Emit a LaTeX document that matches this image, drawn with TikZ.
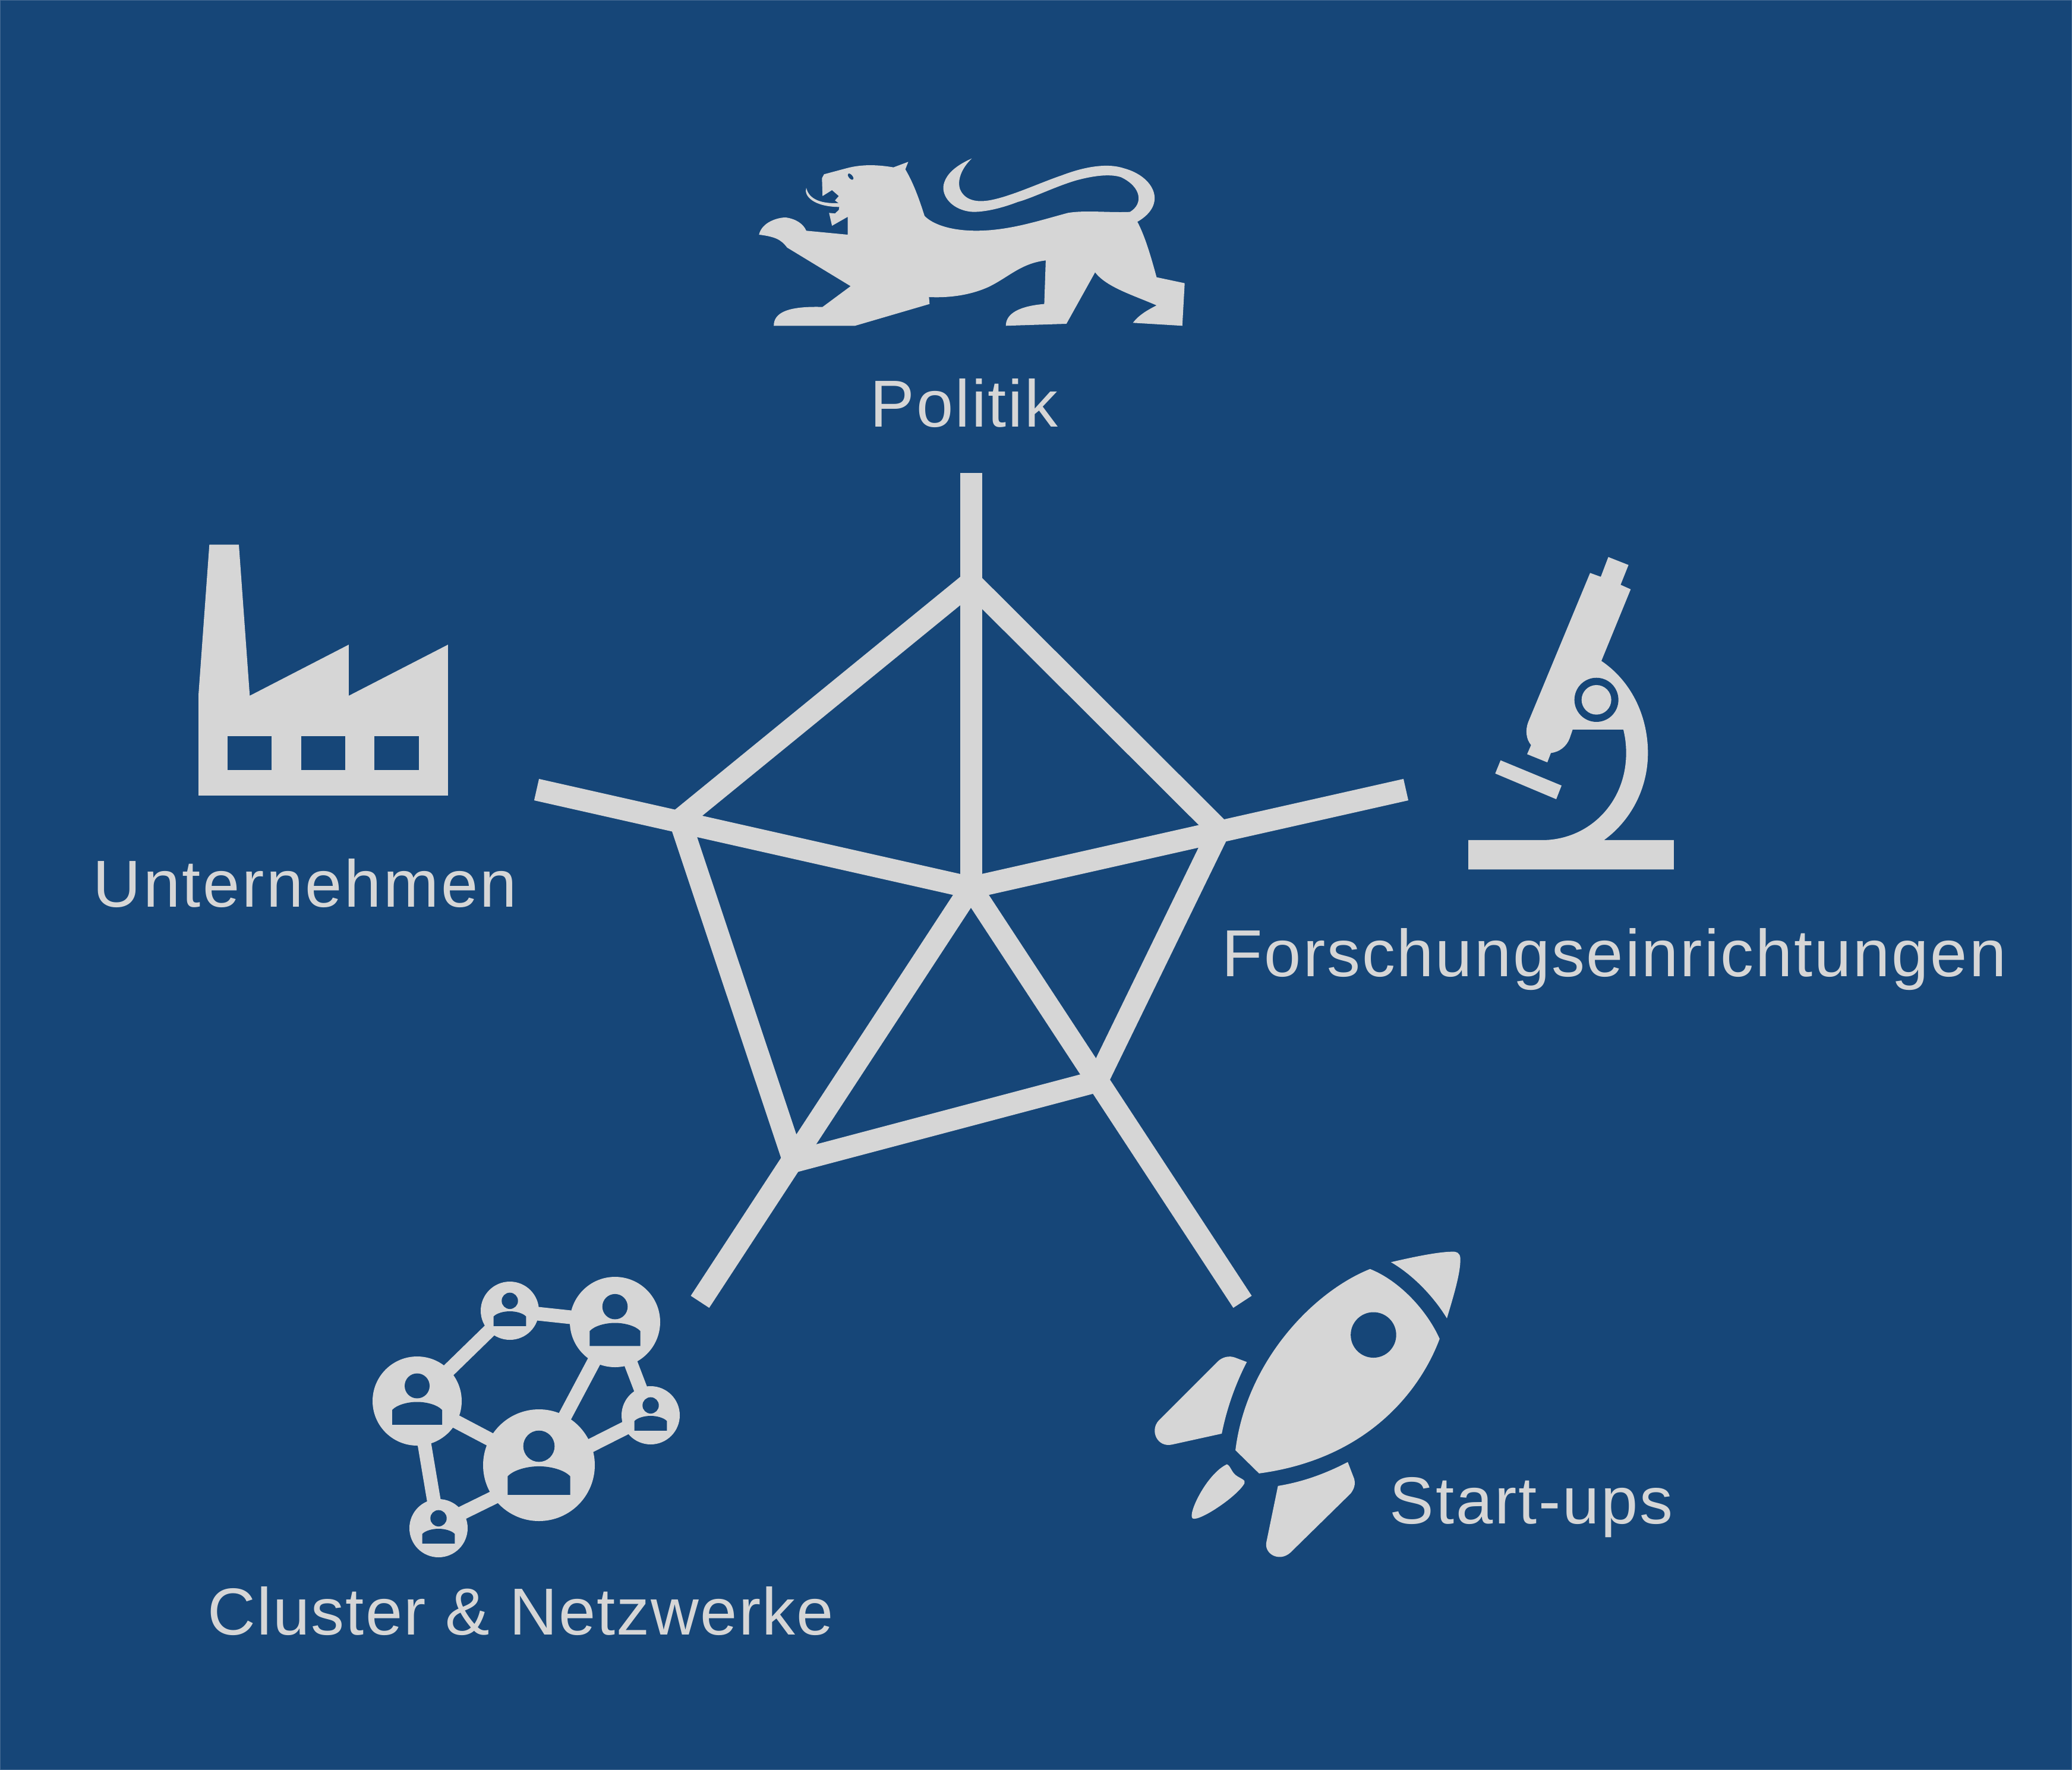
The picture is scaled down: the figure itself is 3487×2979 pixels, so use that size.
\documentclass[tikz,border=0pt]{standalone}
\usepackage{fontspec}
\setmainfont[LetterSpace=2.6]{Liberation Sans}
\usetikzlibrary{positioning}
\definecolor{bgblue}{HTML}{164678}
\definecolor{iconGray}{HTML}{D6D6D6}
\tikzset{
    label text/.style={text=iconGray, anchor=base west, inner sep=0pt, font=\fontsize{31.8}{38}\selectfont},
    web line/.style={draw=iconGray, line width=.37cm, line join=miter},
    net line/.style={draw=iconGray, line width=.23cm}
}

\begin{document}
\begin{tikzpicture}[x=.01cm, y=-.01cm]

\useasboundingbox (0,0) rectangle (3487,2979);
\fill[bgblue] (0,0) rectangle (3487,2979);
\draw[bgblue!80!white, line width=.02cm] (0,0) rectangle (3487,2979);

\coordinate (mid) at (1634,1494);
\coordinate (politik) at (1634,796);
\coordinate (forschung) at (2366,1329);
\coordinate (startups) at (2091,2191);
\coordinate (cluster) at (1178,2191);
\coordinate (firmen) at (903,1329);
\coordinate (p1) at (1634,980);
\coordinate (p2) at (2052,1397);
\coordinate (p3) at (1846,1820);
\coordinate (p4) at (1336,1955);
\coordinate (p5) at (1144,1380);

\foreach \point in {politik,forschung,startups,cluster,firmen}
    \draw[web line] (mid) -- (\point);
\draw[web line] (p1) -- (p2) -- (p3) -- (p4) -- (p5) -- cycle;

\node[label text] (tpolitik) at (1464,718) {Politik};
\node[label text] (tfirmen) at (156,1526) {\addfontfeatures{LetterSpace=3.2}Unternehmen};
\node[label text] (tforschung) at (2056,1643) {Forschungseinrichtungen};
\node[label text] (tstartups) at (2338,2564) {Start-ups};
\node[label text] (tcluster) at (349,2751) {\addfontfeatures{LetterSpace=1.9}Cluster \& Netzwerke};

% lion
\begin{scope}[shift={(1240,240)}, xscale=.4975, yscale=.3333]
\fill[iconGray] (75,465) .. controls (85,400) and (140,378) .. (165,378)
    .. controls (200,385) and (225,410) .. (235,445) -- (375,465) -- (375,375) -- (322,420) -- (312,355) -- (332,358)
    -- (345,340) -- (348,310) -- (332,292) -- (345,270) -- (322,240) -- (290,270) -- (288,180) -- (295,160) -- (370,130)
    .. controls (430,105) and (490,115) .. (530,125) -- (580,97) -- (570,135)
    .. controls (600,210) and (620,300) .. (635,370) .. controls (660,410) and (720,445) .. (810,445)
    .. controls (920,445) and (1020,395) .. (1120,355) .. controls (1180,340) and (1260,355) .. (1330,350)
    .. controls (1375,310) and (1370,225) .. (1300,175) .. controls (1260,155) and (1200,170) .. (1150,190)
    .. controls (1080,220) and (1000,280) .. (950,300) .. controls (880,340) and (830,350) .. (800,350)
    .. controls (730,345) and (690,270) .. (700,210) .. controls (710,150) and (750,110) .. (795,80)
    .. controls (760,130) and (745,190) .. (755,235) .. controls (770,290) and (810,305) .. (860,290)
    .. controls (930,270) and (1030,200) .. (1100,165) .. controls (1170,125) and (1250,100) .. (1310,130)
    .. controls (1410,170) and (1460,310) .. (1355,400)
    .. controls (1380,470) and (1400,570) .. (1420,680) -- (1515,710) -- (1507,925) -- (1340,910)
    .. controls (1360,870) and (1390,845) .. (1420,822) .. controls (1340,770) and (1250,730) .. (1212,655)
    -- (1115,915) -- (910,925) .. controls (910,860) and (960,825) .. (1040,815) -- (1045,595)
    .. controls (960,610) and (920,680) .. (850,730) .. controls (790,770) and (720,785) .. (650,780)
    -- (652,815) -- (400,925) -- (125,925) .. controls (125,860) and (170,825) .. (290,830)
    -- (385,725) -- (170,530) .. controls (150,490) and (130,475) .. (75,465) -- cycle;
\fill[iconGray] (235,228) .. controls (225,270) and (261,325) .. (348,325) -- (348,305)
    .. controls (268,312) and (241,270) .. (235,228) -- cycle;
\fill[bgblue, rotate around={25:(385,172)}] (385,172) circle [x radius=7, y radius=17];
\end{scope}

% factory
\begin{scope}[shift={(300,880)}, scale=.3333]
\fill[iconGray] (102,870) -- (157,110) -- (306,110) -- (361,873) -- (861,615) -- (861,873) -- (1362,615)
    -- (1362,1377) -- (102,1377) -- cycle;
\foreach \winx in {249,620,991}
    \fill[bgblue] (\winx,1078) rectangle ++(223,169);
\end{scope}

% microscope
\begin{scope}[shift={(2420,900)}, xscale=.3333, yscale=.3827]
\fill[iconGray] (768,168) -- (822,185) -- (860,98) -- (962,133) -- (922,220) -- (973,240) -- (825,555)
    .. controls (970,640) and (1060,790) .. (1060,960) .. controls (1060,1120) and (970,1260) .. (838,1343)
    -- (1191,1343) -- (1191,1472) -- (153,1472) -- (153,1343) -- (525,1343)
    .. controls (760,1343) and (950,1180) .. (950,960) .. controls (950,920) and (945,890) .. (936,857)
    -- (680,857) -- (665,895) .. controls (650,930) and (615,955) .. (570,960) -- (552,1001) -- (450,965)
    -- (470,925) .. controls (445,900) and (440,860) .. (455,825) -- cycle;
\fill[iconGray] (316,992) -- (624,1103) -- (597,1163) -- (289,1050) -- cycle;
\fill[bgblue] (800,726) circle [x radius=111, y radius=97];
\fill[iconGray] (800,726) circle [x radius=75, y radius=65];
\end{scope}

% rocket
\begin{scope}[shift={(1900,2060)}, scale=.3827]
\fill[iconGray] (1152,168) .. controls (1250,145) and (1370,120) .. (1430,122) .. controls (1455,125) and (1458,140) .. (1457,165)
    .. controls (1455,230) and (1420,340) .. (1398,415) .. controls (1340,320) and (1250,225) .. (1152,168) -- cycle;
\fill[iconGray] (1060,198) .. controls (1190,250) and (1310,380) .. (1366,505)
    .. controls (1290,710) and (1070,1030) .. (572,1097)
    -- (468,995) .. controls (515,610) and (805,300) .. (1060,198) -- cycle;
\fill[bgblue] (1075,488) circle [radius=100];
\fill[iconGray] (518,607) -- (465,587) .. controls (440,578) and (410,585) .. (390,605) -- (130,865)
    .. controls (90,910) and (125,985) .. (190,970) -- (408,922) .. controls (430,810) and (470,700) .. (518,607) -- cycle;
\fill[iconGray] (962,1047) -- (990,1120) .. controls (997,1145) and (990,1165) .. (975,1185) -- (710,1445)
    .. controls (660,1490) and (590,1450) .. (605,1395) -- (655,1152) .. controls (760,1135) and (860,1100) .. (962,1047) -- cycle;
\fill[iconGray] (430,1057) .. controls (445,1060) and (450,1090) .. (470,1105) .. controls (490,1120) and (515,1125) .. (508,1140)
    .. controls (480,1195) and (310,1310) .. (280,1295) .. controls (255,1280) and (340,1100) .. (430,1057) -- cycle;
\end{scope}

% network
\coordinate (na) at (702,2358);
\coordinate (nb) at (858,2206);
\coordinate (nc) at (1035,2225);
\coordinate (nd) at (907,2466);
\coordinate (ne) at (1095,2382);
\coordinate (nf) at (738,2572);
\coordinate (nde) at (907,2477);
\coordinate (ndf) at (907,2483);
\coordinate (nfd) at (738,2566);
\foreach \from/\to in {na/nb,nb/nc,nc/nd,nc/ne,nde/ne,na/nd,na/nf,ndf/nfd}
    \draw[net line] (\from) -- (\to);
\foreach \name/\radius in {na/75,nb/49,nc/76,nd/94,ne/49,nf/49}{
    \begin{scope}[shift={(\name)}, scale=\radius]
    \fill[iconGray] (0,0) circle [radius=1];
    \fill[bgblue] (0,-.34) circle [radius=.28];
    \fill[bgblue] (-.56,.53) -- (-.56,.2) .. controls (-.45,.08) and (-.2,.02) .. (0,.02)
        .. controls (.2,.02) and (.45,.08) .. (.56,.2) -- (.56,.53) -- cycle;
    \end{scope}
}
\end{tikzpicture}
\end{document}
